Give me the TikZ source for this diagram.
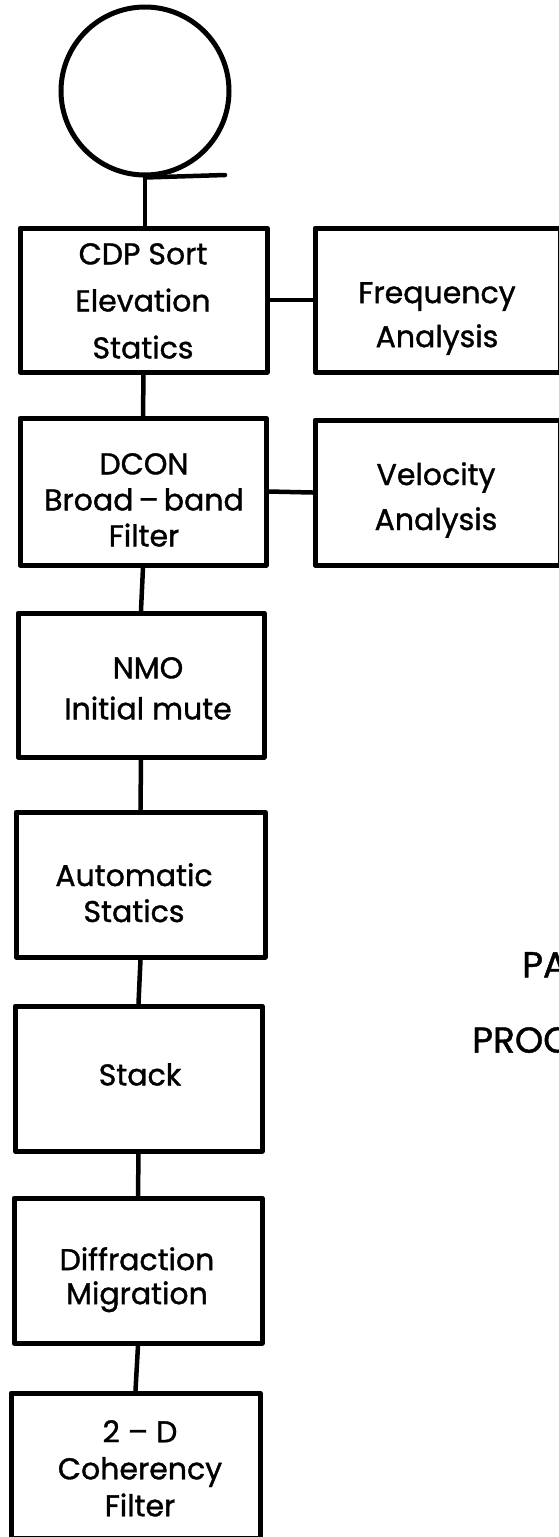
\documentclass[tikz,border=0pt]{standalone}
\usepackage{fontspec}
\setmainfont{Poppins}[FakeBold=1.2]
\begin{document}
\begin{tikzpicture}[x=1pt,y=-1pt,
  ln/.style={line width=4.5pt, line cap=round, line join=round},
  box/.style={draw, line width=5pt, line join=round, inner sep=0pt},
  txt/.style={inner sep=0pt, anchor=north, align=center},
  bodyfont/.style={font=\fontsize{30}{#1}\selectfont},
  bigfont/.style={font=\fontsize{36}{40}\selectfont}]
\useasboundingbox (0,0) rectangle (559,1537);
\clip (0,0) rectangle (559,1537);
% start circle
\node[draw, line width=5pt, circle, minimum size=168pt, inner sep=0pt] (c) at (145,91) {};
\coordinate (tail) at (225,175);
\draw[ln] (c.south) -- (tail);
% boxes
\node[box, minimum width=247pt, minimum height=144pt] (b1) at (143.5,300) {};
\node[box, minimum width=245pt, minimum height=144pt] (bf) at (437.5,300) {};
\node[box, minimum width=246pt, minimum height=147pt] (b2) at (143,491.5) {};
\node[box, minimum width=245pt, minimum height=145pt] (bv) at (437.5,492.5) {};
\node[box, minimum width=246pt, minimum height=144pt] (b3) at (141,685) {};
\node[box, minimum width=249pt, minimum height=145pt] (b4) at (140.5,884.5) {};
\node[box, minimum width=247pt, minimum height=145pt] (b5) at (138.5,1078.5) {};
\node[box, minimum width=248pt, minimum height=145pt] (b6) at (138,1270.5) {};
\node[box, minimum width=249pt, minimum height=145pt] (b7) at (135.5,1465.5) {};
% connectors
\draw[ln] (c.south) -- (c.south |- b1.north);
\draw[ln] (b1.east) -- (bf.west);
\draw[ln] (b2.east) -- (bv.west);
\draw[ln] (b1.south) -- (b2.north);
\draw[ln] (b2.south) -- (b3.north);
\draw[ln] (b3.south) -- (b4.north);
\draw[ln] (b4.south) -- (b5.north);
\draw[ln] (b5.south) -- (b6.north);
\draw[ln] (b6.south) -- (b7.north);
% texts
\node[txt, bodyfont=47] (t1) at (143,243) {CDP Sort\\Elevation\\Statics};
\node[txt, bodyfont=44] (tf) at (437,282) {Frequency\\Analysis};
\node[txt, bodyfont=36] (t2) at (144,453) {DCON\\Broad\,–\,band\\Filter};
\node[txt, bodyfont=45] (tv) at (436,462) {Velocity\\Analysis};
\node[txt, bodyfont=41] (t3) at (148,657) {NMO\\Initial mute};
\node[txt, bodyfont=36] (t4) at (134,863) {Automatic\\Statics};
\node[txt, bodyfont=36] (t5) at (140,1063) {Stack};
\node[txt, bodyfont=34] (t6) at (137,1247) {Diffraction\\Migration};
\node[txt, bodyfont=37] (t7) at (140,1420) {2 – D\\Coherency\\Filter};
\node[inner sep=0pt, anchor=north west, bigfont] (pa) at (522,952) {PA};
\node[inner sep=0pt, anchor=north west, bigfont] (proc) at (472,1027) {PROC};
\end{tikzpicture}
\end{document}
